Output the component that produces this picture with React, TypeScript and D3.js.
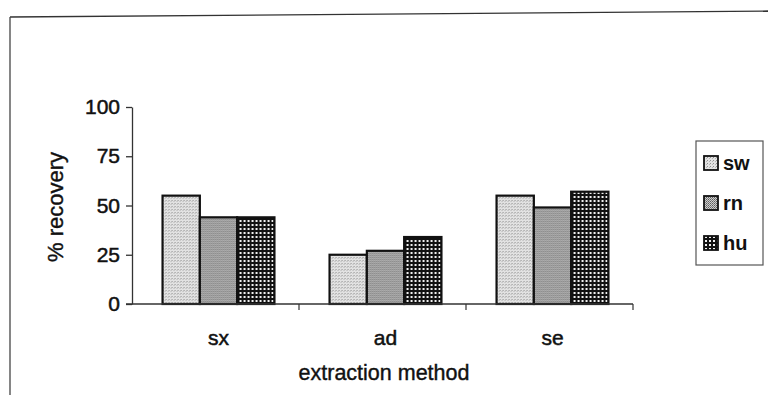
import React, { useEffect, useRef } from "react";
import * as d3 from "d3";

const methods = ["sx", "ad", "se"];
const seriesNames = ["sw", "rn", "hu"];
const swValues = [55, 25, 55];
const rnValues = [44, 27, 49];
const huValues = [44, 34, 57];
const yTicks = [0, 25, 50, 75, 100];

const patternIds = ["pat-sw", "pat-rn", "pat-hu"];
const FONT = "Liberation Sans, Arial, sans-serif";

export default function App() {
  const ref = useRef<SVGSVGElement>(null);

  useEffect(() => {
    const svg = d3.select(ref.current);
    svg.selectAll("*").remove();

    const width = 768;
    const height = 395;
    const margin = { top: 107, left: 132, bottom: 91, right: 135 };
    const innerWidth = width - margin.left - margin.right;
    const innerHeight = height - margin.top - margin.bottom;

    // fill patterns, like the old print halftones
    const defs = svg.append("defs");
    const sw = defs.append("pattern").attr("id", patternIds[0])
      .attr("patternUnits", "userSpaceOnUse").attr("width", 3).attr("height", 3);
    sw.append("rect").attr("width", 3).attr("height", 3).attr("fill", "#e2e2e2");
    sw.append("rect").attr("x", 0).attr("y", 0).attr("width", 1).attr("height", 1).attr("fill", "#909090");
    sw.append("rect").attr("x", 2).attr("y", 1).attr("width", 1).attr("height", 1).attr("fill", "#b4b4b4");

    const rn = defs.append("pattern").attr("id", patternIds[1])
      .attr("patternUnits", "userSpaceOnUse").attr("width", 2).attr("height", 2);
    rn.append("rect").attr("width", 2).attr("height", 2).attr("fill", "#cdcdcd");
    rn.append("rect").attr("x", 0).attr("y", 0).attr("width", 1).attr("height", 1).attr("fill", "#5e5e5e");
    rn.append("rect").attr("x", 1).attr("y", 1).attr("width", 1).attr("height", 1).attr("fill", "#808080");

    const hu = defs.append("pattern").attr("id", patternIds[2])
      .attr("patternUnits", "userSpaceOnUse").attr("width", 4).attr("height", 4);
    hu.append("rect").attr("width", 4).attr("height", 4).attr("fill", "#111");
    hu.append("rect").attr("x", 1).attr("y", 1).attr("width", 2).attr("height", 2).attr("fill", "#f0f0f0");

    // scanned page frame
    svg.append("line").attr("x1", 10).attr("y1", 17).attr("x2", 768).attr("y2", 11)
      .attr("stroke", "#333").attr("stroke-width", 1.3);
    svg.append("line").attr("x1", 10).attr("y1", 17).attr("x2", 10).attr("y2", 395)
      .attr("stroke", "#444").attr("stroke-width", 1.3);

    const g = svg.append("g").attr("transform", `translate(${margin.left},${margin.top})`);

    const x0 = d3.scaleBand().domain(methods).range([0, innerWidth]).paddingInner(0.33).paddingOuter(0.165);
    const x1 = d3.scaleBand().domain(seriesNames).range([0, x0.bandwidth()]);
    const y = d3.scaleLinear().domain([0, 100]).range([innerHeight, 0]);

    const values = [swValues, rnValues, huValues];
    const data = methods.map((m, i) => ({
      method: m,
      vals: seriesNames.map((s, j) => ({ key: s, idx: j, value: values[j][i] })),
    }));

    const groups = g.selectAll("g.grp").data(data).enter().append("g")
      .attr("class", "grp")
      .attr("transform", d => `translate(${x0(d.method)! + 3},0)`);

    groups.selectAll("rect").data(d => d.vals).enter().append("rect")
      .attr("x", d => x1(d.key)!)
      .attr("y", d => y(d.value))
      .attr("width", x1.bandwidth())
      .attr("height", d => innerHeight - y(d.value))
      .attr("fill", d => `url(#${patternIds[d.idx]})`)
      .attr("stroke", "#111")
      .attr("stroke-width", 2.2);

    // y axis
    const yAxis = g.append("g").call(d3.axisLeft(y).tickValues(yTicks).tickSize(6).tickSizeOuter(0));
    yAxis.select(".domain").attr("stroke", "#333").attr("stroke-width", 1.3);
    yAxis.selectAll(".tick line").attr("stroke", "#333").attr("stroke-width", 1.3);
    yAxis.selectAll(".tick text")
      .attr("font-family", FONT)
      .attr("font-size", 21).attr("fill", "#111")
      .attr("stroke", "#111").attr("stroke-width", 0.5)
      .attr("dx", -3);

    // x axis with ticks between categories
    const xAxisG = g.append("g").attr("transform", `translate(0,${innerHeight})`);
    xAxisG.append("line").attr("x1", -6).attr("x2", innerWidth).attr("y1", 0).attr("y2", 0)
      .attr("stroke", "#333").attr("stroke-width", 1.3);
    const step = x0.step();
    const bounds = d3.range(1, methods.length + 1).map(i => i * step);
    xAxisG.selectAll("line.sep").data(bounds).enter().append("line")
      .attr("class", "sep")
      .attr("x1", d => d).attr("x2", d => d).attr("y1", 0).attr("y2", 6)
      .attr("stroke", "#333").attr("stroke-width", 1.2);
    xAxisG.selectAll("text.cat").data(methods).enter().append("text")
      .attr("class", "cat")
      .attr("x", d => x0(d)! + x0.bandwidth() / 2 + 3)
      .attr("y", 41)
      .attr("text-anchor", "middle")
      .attr("font-family", FONT)
      .attr("font-size", 21).attr("fill", "#111")
      .attr("stroke", "#111").attr("stroke-width", 0.5)
      .text(d => d);

    // axis titles
    svg.append("text")
      .attr("x", 384)
      .attr("y", 380)
      .attr("text-anchor", "middle")
      .attr("font-family", FONT)
      .attr("font-size", 21.5).attr("fill", "#111")
      .attr("stroke", "#111").attr("stroke-width", 0.4)
      .text("extraction method");

    svg.append("text")
      .attr("transform", `translate(63,207) rotate(-90)`)
      .attr("text-anchor", "middle")
      .attr("font-family", FONT)
      .attr("font-size", 22).attr("fill", "#111")
      .attr("stroke", "#111").attr("stroke-width", 0.4)
      .text("% recovery");

    // legend
    const legend = svg.append("g");
    legend.append("rect").attr("x", 696).attr("y", 141).attr("width", 67).attr("height", 124)
      .attr("fill", "none").attr("stroke", "#555").attr("stroke-width", 1.2);
    const items = legend.selectAll("g.item").data(seriesNames).enter().append("g")
      .attr("class", "item")
      .attr("transform", (d, i) => `translate(704,${163 + i * 40})`);
    items.append("rect").attr("x", 0).attr("y", -7).attr("width", 14).attr("height", 14)
      .attr("fill", (d, i) => `url(#${patternIds[i]})`).attr("stroke", "#111").attr("stroke-width", 1.8);
    items.append("text").attr("x", 19).attr("y", 7)
      .attr("font-family", FONT)
      .attr("font-size", 20).attr("font-weight", "bold").attr("fill", "#111")
      .text(d => d);
  }, []);

  return (
    <svg ref={ref} width={768} height={395}
      style={{ position: "absolute", left: 0, top: 0, background: "#fff" }} />
  );
}
